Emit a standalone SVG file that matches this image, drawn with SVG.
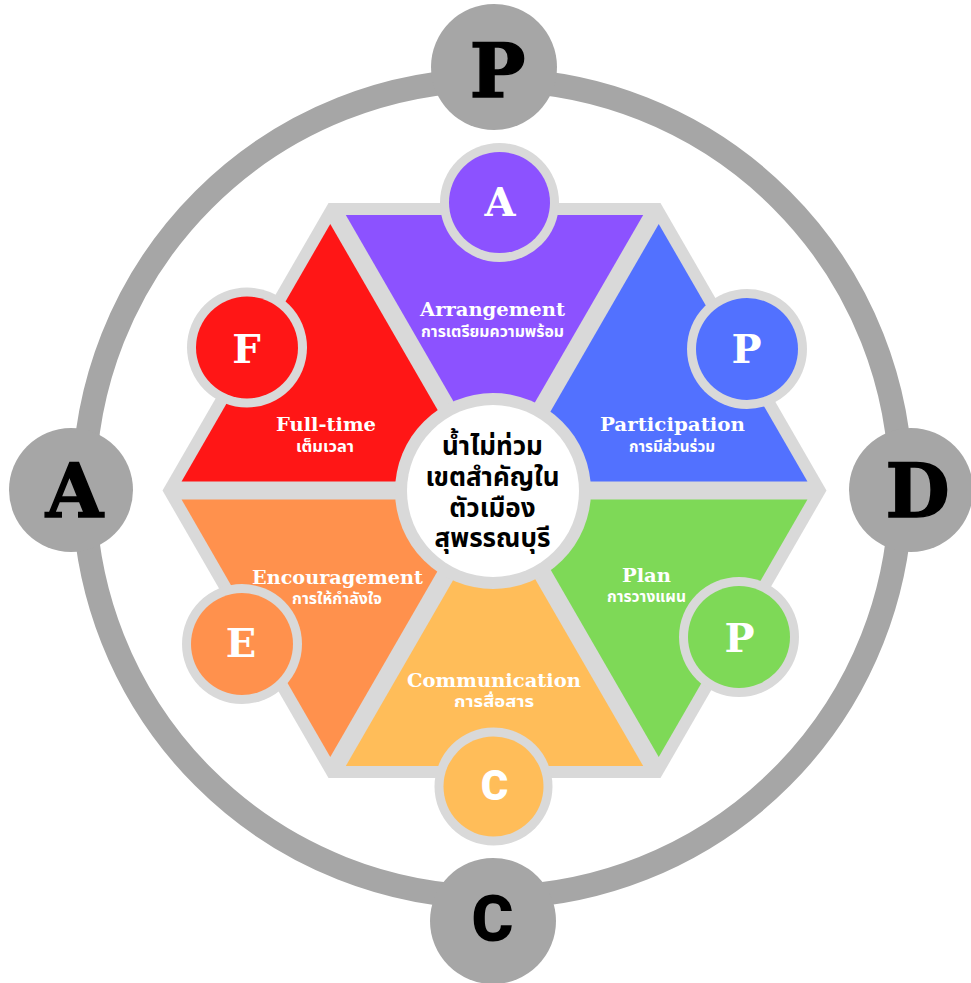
<svg xmlns="http://www.w3.org/2000/svg" width="971" height="983" viewBox="0 0 971 983">
<style>
.ring{fill:none;stroke:#a6a6a6;stroke-width:24}
.big{fill:#a6a6a6}
.bigL{font-family:"DejaVu Serif","Liberation Serif",serif;font-weight:bold;font-size:74px;fill:#000;stroke:#000;stroke-width:1.5;text-anchor:middle}
.bigS{font-family:Roboto,"DejaVu Sans",sans-serif;font-weight:900;font-size:64px;fill:#000;text-anchor:middle}
.hexbg{fill:#d9d9d9}
.brd{fill:#d9d9d9}
.smL{font-family:"DejaVu Serif","Liberation Serif",serif;font-weight:bold;font-size:40px;fill:#fff;text-anchor:middle}
.smS{font-family:Roboto,"DejaVu Sans",sans-serif;font-weight:900;font-size:42px;fill:#fff;text-anchor:middle}
.en{font-family:"DejaVu Serif","Liberation Serif",serif;font-weight:bold;font-size:18px;fill:#fff;text-anchor:middle}
.th{font-family:"Noto Sans Thai","Noto Sans","DejaVu Sans",sans-serif;font-weight:bold;font-size:15px;fill:#fff;text-anchor:middle}
.ct{font-family:"Noto Sans Thai","Noto Sans","DejaVu Sans",sans-serif;font-weight:bold;font-size:26px;fill:#000;text-anchor:middle}
</style>
<defs>
<polygon id="tri" points="-148.7,-275.5 148.7,-275.5 0,-18"/>
</defs>
<rect width="971" height="983" fill="#fff"/>
<g id="connectors">
<circle class="ring" cx="492.5" cy="488.5" r="408.5"/>
</g>
<g id="outer-P"><circle class="big" cx="494" cy="67" r="63"/><text class="bigL" x="497.5" y="97">P</text></g>
<g id="outer-A"><circle class="big" cx="71" cy="490" r="62"/><text class="bigL" x="74.5" y="517">A</text></g>
<g id="outer-D"><circle class="big" cx="911" cy="490" r="62"/><text class="bigL" x="917.5" y="517">D</text></g>
<g id="outer-C"><circle class="big" cx="493" cy="921" r="63"/><text class="bigS" x="492.5" y="941">C</text></g>
<g id="hexagon"><polygon class="hexbg" points="826.5,490.5 660.5,778 328.5,778 162.5,490.5 328.5,203 660.5,203"/></g>
<g id="arrangement">
<use href="#tri" transform="translate(494.5,490.5)" fill="#8c52ff"/>
<circle class="brd" cx="499.5" cy="202.5" r="59.5"/><circle cx="499.5" cy="202.5" r="50.5" fill="#8c52ff"/>
<text class="smL" x="500" y="216">A</text>
<text class="en" x="492.5" y="316" textLength="145" lengthAdjust="spacingAndGlyphs">Arrangement</text>
<text class="th" x="492.5" y="337" textLength="143" lengthAdjust="spacingAndGlyphs">การเตรียมความพร้อม</text>
</g>
<g id="participation">
<use href="#tri" transform="translate(494.5,490.5) rotate(60)" fill="#5271ff"/>
<circle class="brd" cx="747" cy="349" r="60"/><circle cx="747" cy="349" r="51" fill="#5271ff"/>
<text class="smL" x="746.5" y="363">P</text>
<text class="en" x="672.5" y="431" textLength="145" lengthAdjust="spacingAndGlyphs">Participation</text>
<text class="th" x="672" y="452" textLength="86" lengthAdjust="spacingAndGlyphs">การมีส่วนร่วม</text>
</g>
<g id="plan">
<use href="#tri" transform="translate(494.5,490.5) rotate(120)" fill="#7ed957"/>
<circle class="brd" cx="739" cy="637" r="60"/><circle cx="739" cy="637" r="51" fill="#7ed957"/>
<text class="smL" x="739.5" y="652">P</text>
<text class="en" x="646.5" y="581.5" textLength="49" lengthAdjust="spacingAndGlyphs">Plan</text>
<text class="th" x="646.5" y="601.5" textLength="79" lengthAdjust="spacingAndGlyphs">การวางแผน</text>
</g>
<g id="communication">
<use href="#tri" transform="translate(494.5,490.5) rotate(180)" fill="#ffbd59"/>
<circle class="brd" cx="493.5" cy="786.5" r="59"/><circle cx="493.5" cy="786.5" r="50" fill="#ffbd59"/>
<text class="smS" x="494.5" y="800">C</text>
<text class="en" x="494" y="687" textLength="174" lengthAdjust="spacingAndGlyphs">Communication</text>
<text class="th" x="494" y="707" textLength="80" lengthAdjust="spacingAndGlyphs">การสื่อสาร</text>
</g>
<g id="encouragement">
<use href="#tri" transform="translate(494.5,490.5) rotate(240)" fill="#ff914d"/>
<circle class="brd" cx="242" cy="644" r="60"/><circle cx="242" cy="644" r="51" fill="#ff914d"/>
<text class="smL" x="241" y="657">E</text>
<text class="en" x="337.5" y="584" textLength="171" lengthAdjust="spacingAndGlyphs">Encouragement</text>
<text class="th" x="337" y="604" textLength="90" lengthAdjust="spacingAndGlyphs">การให้กำลังใจ</text>
</g>
<g id="fulltime">
<use href="#tri" transform="translate(494.5,490.5) rotate(300)" fill="#ff1616"/>
<circle class="brd" cx="247" cy="347.5" r="60"/><circle cx="247" cy="347.5" r="51" fill="#ff1616"/>
<text class="smL" x="246.5" y="363">F</text>
<text class="en" x="326" y="431" textLength="100" lengthAdjust="spacingAndGlyphs">Full-time</text>
<text class="th" x="325" y="452" textLength="58" lengthAdjust="spacingAndGlyphs">เต็มเวลา</text>
</g>
<g id="center">
<circle cx="493" cy="491" r="98" fill="#d9d9d9"/>
<circle cx="493" cy="491" r="86" fill="#fff"/>
<text class="ct" x="492.5" y="455">น้ำไม่ท่วม</text>
<text class="ct" x="492.5" y="486">เขตสำคัญใน</text>
<text class="ct" x="492.5" y="517">ตัวเมือง</text>
<text class="ct" x="492.5" y="547">สุพรรณบุรี</text>
</g>
</svg>
